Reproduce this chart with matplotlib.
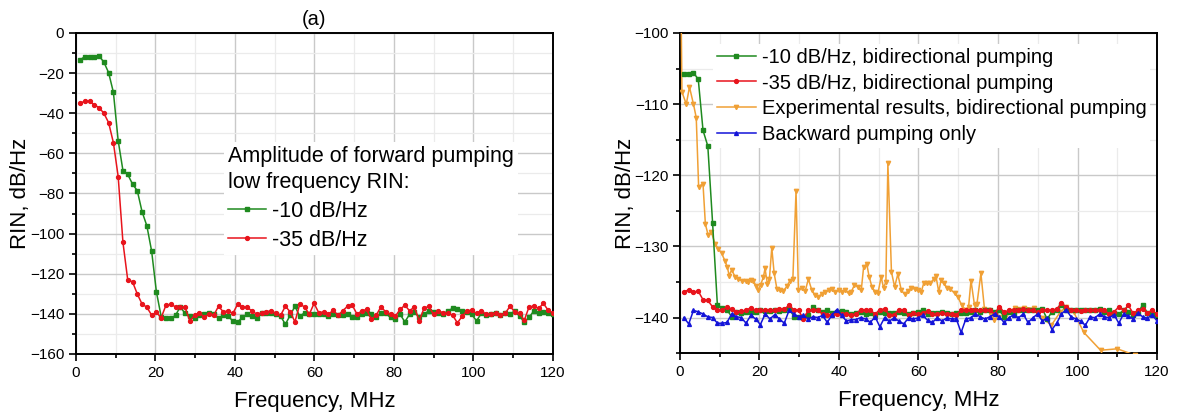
import numpy as np
import matplotlib
matplotlib.use("Agg")
import matplotlib.pyplot as plt
from matplotlib.ticker import MultipleLocator

plt.rcParams['font.family'] = ['Liberation Sans', 'DejaVu Sans']

# ---------------- data ----------------
# common simulation frequency grid (MHz), 100 points from 1 to 120
freq_sim = np.linspace(1.0, 120.0, 100)

# panel (a): forward pumping low frequency RIN
rin_a_m10 = [
    -13.5, -11.8, -11.8, -11.8, -11.5, -14.5, -19.8, -29.6, -53.7, -68.6,
    -70.5, -75.3, -78.6, -89.1, -96.1, -108.7, -129.0, -141.4,
    -142.3, -142.3, -140.7, -136.5, -139.8, -141.2, -142.3, -140.7, -140.2, -139.8,
    -140.2, -142.3, -140.7, -141.2, -143.5, -144.0, -141.8, -140.2, -141.2, -142.3,
    -139.8, -139.5, -139.8, -140.2, -141.2, -145.2, -140.7, -136.2, -141.2, -139.5,
    -140.2, -140.2, -140.2, -140.2, -141.2, -140.2, -140.7, -140.7, -140.2, -141.5,
    -141.5, -140.2, -139.5, -140.2, -141.5, -139.5, -139.8, -141.8, -142.8, -140.2,
    -144.0, -140.2, -139.0, -141.8, -140.2, -138.5, -139.0, -139.5, -140.2, -138.5,
    -137.3, -137.8, -138.5, -139.0, -140.2, -143.5, -139.8, -140.7, -140.2, -139.5,
    -140.7, -139.8, -140.2, -138.5, -141.2, -144.0, -141.8, -138.5, -139.5, -139.0,
    -139.8, -140.2,
]
rin_a_m35 = [
    -35.1, -34.0, -34.0, -35.9, -37.2, -40.0, -44.7, -54.7, -71.6, -104.4,
    -123.1, -124.0, -130.1, -135.1, -136.7, -140.6, -139.3, -141.9,
    -135.7, -135.2, -136.5, -136.8, -136.8, -143.5, -140.7, -139.5, -141.5, -140.2,
    -140.7, -136.2, -139.0, -138.5, -139.8, -135.2, -136.5, -136.8, -138.5, -140.2,
    -139.5, -139.0, -138.5, -139.8, -140.7, -136.2, -139.0, -144.0, -135.2, -136.5,
    -140.2, -134.8, -139.5, -139.0, -140.2, -138.2, -140.7, -138.5, -136.2, -135.7,
    -140.2, -138.5, -137.8, -142.8, -140.7, -136.5, -139.0, -140.2, -141.2, -137.8,
    -135.7, -138.5, -136.5, -143.5, -137.3, -136.2, -140.2, -138.5, -139.5, -139.8,
    -140.7, -144.5, -141.2, -138.5, -138.2, -139.8, -138.5, -140.2, -140.2, -139.5,
    -140.7, -139.8, -136.2, -139.0, -139.8, -143.2, -136.5, -136.2, -137.3, -134.8,
    -138.2, -139.5,
]

# panel (b): bidirectional pumping
rin_b_m10 = [
    -105.8, -105.8, -105.6, -106.5, -113.7, -115.9, -126.7, -138.2, -138.7, -138.9,
    -139.9, -139.2, -139.4, -139.2, -139.2, -139.2, -138.9, -139.1, -139.1, -139.0,
    -139.1, -138.9, -138.6, -139.9, -139.9, -139.9, -139.6, -138.5, -139.0,
    -139.25, -139.0, -139.4, -139.25, -139.1, -139.25, -139.5, -139.4, -139.25, -139.5,
    -139.4, -139.6, -139.25, -139.4, -139.4, -139.4, -139.25, -139.4, -139.5, -139.4,
    -139.25, -138.9, -139.5, -139.4, -139.4, -139.25, -139.4, -139.5, -139.4, -139.4,
    -139.4,
    -139.25, -139.0, -139.25, -139.0, -139.0, -139.25, -139.0, -139.9, -139.25, -139.5,
    -139.0, -138.9, -139.0, -139.0, -138.9, -138.8, -140.2, -139.25, -139.0, -138.3,
    -139.0, -138.9, -138.9, -139.0, -139.0, -139.0, -138.9, -138.8, -139.25, -139.0,
    -139.3, -139.5, -139.0, -139.2, -139.6, -139.4, -138.2, -139.4, -139.5, -139.6,
]
rin_b_m35 = [
    -136.4, -136.1, -136.4, -136.3, -137.5, -137.6, -138.5, -138.9, -139.0, -138.5,
    -138.8, -139.2, -139.1, -139.0, -138.6, -139.0, -138.9, -139.0, -138.9, -139.0,
    -138.8, -138.8, -138.3, -138.9, -139.0, -140.2, -139.0, -138.9, -139.0,
    -139.5, -139.7, -139.6, -139.5, -139.5, -139.5, -139.7, -139.5, -138.9, -138.9,
    -139.0, -139.5, -138.9, -138.8, -139.7, -139.6, -138.9, -138.9, -139.7, -139.4,
    -139.5, -139.4, -139.1, -139.5, -139.5, -139.4, -139.5, -139.5, -139.6, -139.0,
    -139.0,
    -138.9, -139.0, -139.0, -138.9, -139.0, -139.5, -138.5, -139.25, -139.0, -139.0,
    -139.0, -138.8, -139.0, -139.0, -139.25, -138.9, -139.0, -139.0, -138.8, -138.0,
    -138.5, -138.9, -138.9, -139.05, -138.9, -138.9, -139.0, -138.9, -139.0, -139.5,
    -139.2, -138.5, -139.0, -138.3, -139.4, -139.0, -138.8, -139.3, -139.0, -139.5,
]
rin_b_backward = [
    -140.0, -140.9, -139.0, -139.2, -139.5, -139.9, -140.0, -140.8, -140.8, -140.7,
    -139.5, -139.9, -140.0, -140.8, -139.7, -140.2, -141.0, -139.5, -140.2, -139.6,
    -140.2, -140.8, -139.0, -139.5, -139.9, -139.7, -140.2, -139.9, -140.0,
    -139.7, -140.7, -139.6, -138.9, -139.7, -140.5, -140.3, -140.3, -140.0, -140.2,
    -140.7, -139.9, -141.3, -140.0, -140.5, -140.05, -140.5, -140.9, -140.05, -140.2,
    -140.05, -139.7, -140.4, -140.7, -140.0, -140.5, -140.05, -140.2, -140.2, -142.1,
    -140.2,
    -140.05, -139.5, -139.9, -140.2, -139.9, -139.5, -139.9, -140.7, -140.05, -139.6,
    -140.05, -139.5, -140.7, -140.05, -139.5, -140.5, -140.05, -141.7, -140.8, -139.5,
    -138.9, -139.9, -140.2, -140.5, -141.1, -139.9, -140.05, -139.5, -139.9, -140.05,
    -139.6, -140.8, -139.5, -139.8, -140.2, -139.4, -139.9, -140.1, -139.6, -140.5,
]

# experimental results (own frequency grid)
freq_exp = [
    0.3, 0.5, 1.6, 2.4, 3.4, 4.1, 4.7, 5.8, 6.4, 7.1, 7.9, 8.8, 9.6, 10.5, 11.3,
    11.9, 12.4, 13.0, 13.9, 14.7, 15.5, 16.6, 17.2, 17.8, 18.5, 19.1, 19.7, 20.3,
    21.0, 21.4, 22.0, 22.5, 23.1, 23.7, 24.4, 25.2, 26.0, 26.9, 27.7, 28.4, 29.2,
    29.8, 30.7, 31.5, 32.3, 33.2, 34.0, 34.8, 35.7, 36.5, 37.4, 38.2, 39.0, 39.9,
    40.7, 41.6, 42.4, 43.1, 43.9, 44.8, 45.6, 46.2, 47.0, 47.6, 48.3, 49.1, 49.8,
    50.6, 51.2, 51.8, 52.3, 53.2, 54.0, 54.8, 55.7, 56.5, 57.4, 58.2, 59.0, 59.9,
    60.7, 61.3, 62.1, 63.0, 63.8, 64.4, 65.1, 65.7, 66.3, 67.2, 68.0, 69.1, 69.9,
    70.9, 71.8, 72.6, 73.2, 74.1, 74.7, 75.7, 76.6, 77.4, 78.3, 79.1, 80.0, 82.0,
    84.2, 86.6, 89.0, 91.1, 93.4, 95.7, 97.2, 99.0, 101.6, 105.8, 110.0, 114.5, 120.0,
]
rin_exp = [
    -97.0, -108.3, -110.0, -107.6, -110.0, -111.9, -121.6, -121.2, -126.9, -128.4,
    -128.0, -129.6, -130.3, -131.0, -132.0, -132.9, -134.1, -133.3, -134.3, -134.6,
    -134.8, -134.9, -135.0, -134.7, -134.9, -135.5, -136.1, -135.4, -134.3, -133.1,
    -135.3, -134.6, -130.2, -133.8, -136.0, -136.2, -136.3, -135.6, -134.8, -134.6,
    -122.2, -136.2, -135.8, -136.3, -134.6, -136.2, -136.9, -137.1, -136.7, -136.4,
    -136.2, -136.0, -136.4, -136.2, -136.4, -136.2, -136.6, -136.4, -135.4, -135.7,
    -136.2, -132.9, -132.5, -134.3, -135.7, -136.4, -136.6, -134.3, -135.8, -135.0,
    -118.3, -133.6, -135.7, -133.9, -136.2, -136.7, -136.3, -135.8, -136.0, -136.2,
    -136.4, -135.2, -135.2, -135.2, -134.6, -134.2, -136.4, -134.7, -135.2, -135.8,
    -136.0, -136.6, -137.1, -138.3, -138.9, -138.5, -134.8, -138.3, -138.1, -133.8,
    -138.8, -139.0, -139.6, -140.4, -139.9, -139.6, -138.6, -138.6, -138.7, -140.0,
    -141.1, -139.2, -138.5, -139.2, -142.1, -144.6, -144.4, -145.3, -147.0,
]

# ---------------- styling ----------------
c_green = '#1f8a1f'
c_red = '#e8141c'
c_orange = '#f0a035'
c_blue = '#1414d8'
lw = 1.1
ms = 2.8

fig = plt.figure(figsize=(11.78, 4.12), dpi=100)
ax1 = fig.add_axes([0.0645, 0.1408, 0.4049, 0.7792])
ax2 = fig.add_axes([0.5772, 0.1430, 0.4050, 0.7770])


def style_axis(ax):
    ax.grid(which='major', color='#c9c9c9', linewidth=1.0, zorder=0)
    ax.grid(which='minor', color='#ebebeb', linewidth=0.9, zorder=0)
    ax.set_axisbelow(True)
    for s in ax.spines.values():
        s.set_linewidth(1.4)
        s.set_color('black')
    ax.tick_params(which='both', direction='out', top=False, right=False,
                   labelsize=11, width=1.2, colors='black')
    ax.tick_params(which='major', length=5)
    ax.tick_params(which='minor', length=3)


# ---- panel (a)
ax1.plot(freq_sim, rin_a_m10, color=c_green, lw=lw, marker='s', ms=ms - 0.3,
         label='-10 dB/Hz', zorder=3)
ax1.plot(freq_sim, rin_a_m35, color=c_red, lw=lw, marker='o', ms=ms,
         label='-35 dB/Hz', zorder=4)
ax1.set_xlim(0, 120)
ax1.set_ylim(-160, 0)
ax1.xaxis.set_major_locator(MultipleLocator(20))
ax1.xaxis.set_minor_locator(MultipleLocator(10))
ax1.yaxis.set_major_locator(MultipleLocator(20))
ax1.yaxis.set_minor_locator(MultipleLocator(10))
style_axis(ax1)
ax1.set_xlabel('Frequency, MHz', fontsize=16)
ax1.set_ylabel('RIN, dB/Hz', fontsize=16)
ax1.xaxis.set_label_coords(0.5, -0.114)
ax1.yaxis.set_label_coords(-0.094, 0.5)
ax1.set_title('(a)', fontsize=14.5, pad=6)
leg1 = ax1.legend(title='Amplitude of forward pumping\nlow frequency RIN:',
                  loc='upper left', bbox_to_anchor=(0.31, 0.66),
                  fontsize=15.5, title_fontsize=15.5, frameon=True, fancybox=False,
                  handlelength=1.75, handletextpad=0.3, borderpad=0.2,
                  labelspacing=0.36, borderaxespad=0)
leg1._legend_box.align = 'left'
leg1.get_title().set_linespacing(1.3)
leg1.get_frame().set_edgecolor('none')
leg1.get_frame().set_facecolor('white')
leg1.get_frame().set_alpha(1)

# ---- panel (b)
ax2.plot(freq_sim, rin_b_m10, color=c_green, lw=lw, marker='s', ms=ms - 0.3,
         label='-10 dB/Hz, bidirectional pumping', zorder=4)
ax2.plot(freq_sim, rin_b_m35, color=c_red, lw=lw, marker='o', ms=ms,
         label='-35 dB/Hz, bidirectional pumping', zorder=5)
ax2.plot(freq_exp, rin_exp, color=c_orange, lw=lw, marker='v', ms=ms + 0.3,
         label='Experimental results, bidirectional pumping', zorder=3)
ax2.plot(freq_sim, rin_b_backward, color=c_blue, lw=lw, marker='^', ms=ms,
         label='Backward pumping only', zorder=6)
ax2.set_xlim(0, 120)
ax2.set_ylim(-145, -100)
ax2.xaxis.set_major_locator(MultipleLocator(20))
ax2.xaxis.set_minor_locator(MultipleLocator(10))
ax2.yaxis.set_major_locator(MultipleLocator(10))
ax2.yaxis.set_minor_locator(MultipleLocator(5))
style_axis(ax2)
ax2.set_xlabel('Frequency, MHz', fontsize=16)
ax2.set_ylabel('RIN, dB/Hz', fontsize=16)
ax2.xaxis.set_label_coords(0.5, -0.114)
ax2.yaxis.set_label_coords(-0.092, 0.5)
leg2 = ax2.legend(loc='upper left', bbox_to_anchor=(0.07, 0.966),
                  fontsize=14.5, frameon=True, fancybox=False,
                  handlelength=1.9, handletextpad=0.3, borderpad=0.2,
                  labelspacing=0.33, borderaxespad=0)
leg2.get_frame().set_edgecolor('none')
leg2.get_frame().set_facecolor('white')
leg2.get_frame().set_alpha(1)

fig.savefig('out.png', dpi=100)
